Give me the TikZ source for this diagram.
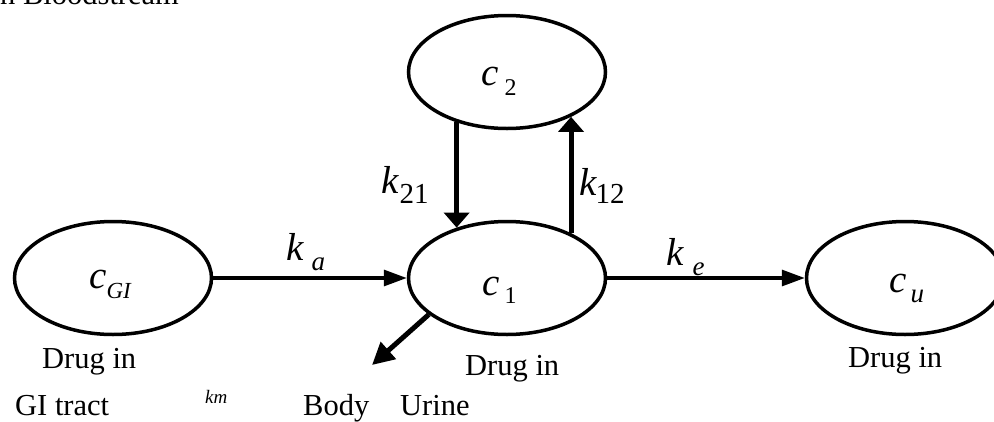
\documentclass[tikz,border=0pt]{standalone}
\usepackage{fontspec}
\setmainfont{Liberation Serif}
\usetikzlibrary{arrows.meta,shapes.geometric}
\newcommand{\sym}[5]{{\fontsize{39}{39}\selectfont\itshape #1}\hspace{#3}\raisebox{-#4}{\fontsize{#5}{#5}\selectfont #2}}
\newcommand{\txt}{\fontsize{30.5}{30.5}\selectfont}

\begin{document}
\begin{tikzpicture}[x=1pt,y=-1pt,
  comp/.style={ellipse,draw,line width=3.5pt,minimum width=197pt,minimum height=113pt,inner sep=0pt},
  lbl/.style={anchor=base west,inner sep=0pt},
  flow/.style={line width=3.3pt,-{Triangle[length=23pt,width=16pt]}},
  vflow/.style={line width=5pt,-{Triangle[length=15pt,width=25pt]}},
  dflow/.style={line width=5pt,-{Triangle[length=22pt,width=22pt]}}]
\useasboundingbox (0,0) rectangle (994,421);
% ================= compartments =================
\node[comp] (gi) at (113,278) {};
\node[comp] (c1) at (507,278) {};
\node[comp] (c2) at (507,72) {};
\node[comp] (cu) at (905,278) {};
\node[lbl] (gilbl) at (89,288) {\sym{c}{\itshape GI}{0pt}{10pt}{23}};
\node[lbl] (c1lbl) at (482,295) {\sym{c}{1}{5pt}{8pt}{24}};
\node[lbl] (c2lbl) at (481,85) {\sym{c}{2}{6pt}{10pt}{24}};
\node[lbl] (culbl) at (889,292) {\sym{c}{\itshape u}{4pt}{10pt}{27}};
% ================= transfers =================
\draw[flow] (gi.east) -- (c1.west);
\draw[flow] (c1.east) -- (cu.west);
\draw[vflow] (c2.225) -- (c1.135);
\draw[vflow] (c1.35) -- (c2.325);
\coordinate (out) at (372,365);
\draw[dflow] (c1.205) -- (out);
\node[lbl] (kalbl) at (286,260) {\sym{k}{\itshape a}{8pt}{10pt}{27}};
\node[lbl] (kelbl) at (666,265) {\sym{k}{\itshape e}{9pt}{10pt}{27}};
\node[lbl] (k21lbl) at (381,193) {\sym{k}{21}{1pt}{10pt}{29}};
\node[lbl] (k12lbl) at (579,195) {\sym{k}{12}{-1pt}{8pt}{29}};
% ================= captions =================
\node[lbl] (blood) at (0,4) {\txt n Bloodstream};
\node[lbl] (gidrug) at (42,368) {\txt Drug in};
\node[lbl] (gitract) at (15,415) {\txt GI tract};
\node[lbl] (km) at (205,403) {\fontsize{19}{19}\selectfont\itshape km};
\node[lbl] (body) at (303,415) {\txt Body};
\node[lbl] (urine) at (400,415) {\txt Urine};
\node[lbl] (c1drug) at (465,375) {\txt Drug in};
\node[lbl] (cudrug) at (848,367) {\txt Drug in};
\end{tikzpicture}
\end{document}
